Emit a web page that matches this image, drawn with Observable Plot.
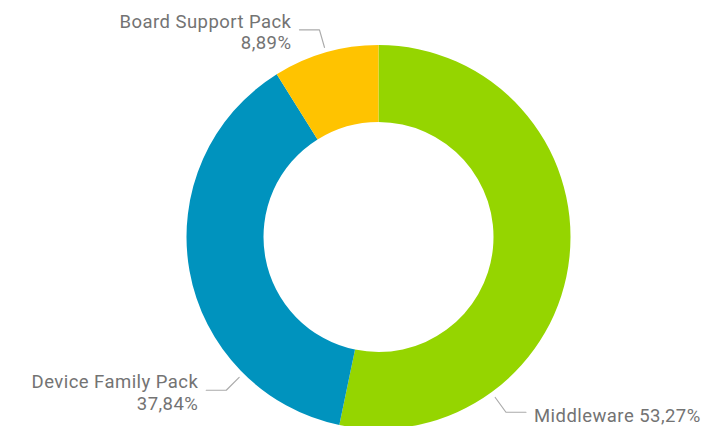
<!DOCTYPE html>
<html>
<head>
<meta charset="utf-8">
<script src="https://cdn.jsdelivr.net/npm/d3@7"></script>
<script src="https://cdn.jsdelivr.net/npm/@observablehq/plot@0.6"></script>
<style>
  html, body { margin: 0; padding: 0; background: #fff; }
  #chart { width: 725px; height: 426px; overflow: hidden; }
  #chart text { letter-spacing: 0.45px; }
</style>
</head>
<body>
<div id="chart"></div>
<script>
// Data
const categories = ["Middleware", "Device Family Pack", "Board Support Pack"];
const shares = [53.27, 37.84, 8.89];
const percentLabels = ["53,27%", "37,84%", "8,89%"];
const colors = ["#95D500", "#0093BE", "#FFC300"];

const slices = categories.map((c, i) => ({category: c, value: shares[i], label: percentLabels[i]}));
const pie = d3.pie().sort(null).value(d => d.value)(slices);

// Label leader-line layout (angles in degrees clockwise from top)
const labelLayout = {
  "Middleware":          {angle: 144, side: 1,  text: d => `${d.category} ${d.label}`, dy: 3},
  "Device Family Pack":  {angle: 225, side: -1, text: d => `${d.category}\n${d.label}`, dy: 2},
  "Board Support Pack":  {angle: 344, side: -1, text: d => `${d.category}\n${d.label}`, dy: 2}
};
const R = 192; // outer radius in px
const innerFrac = 115 / 192;
const r0 = 1.03, r1 = 1.125, hor = 20 / R, gap = 8 / R;

const pt = (a, r) => [r * Math.sin(a * Math.PI / 180), r * Math.cos(a * Math.PI / 180)];

const leaderPts = [];
const labelRows = [];
slices.forEach(d => {
  const L = labelLayout[d.category];
  const [xs, ys] = pt(L.angle, r0);
  const [xe, ye] = pt(L.angle, r1);
  leaderPts.push({k: d.category, x: xs, y: ys});
  leaderPts.push({k: d.category, x: xe, y: ye});
  leaderPts.push({k: d.category, x: xe + L.side * hor, y: ye});
  labelRows.push({x: xe + L.side * (hor + gap), y: ye, text: L.text(d), anchor: L.side > 0 ? "start" : "end", dy: L.dy});
});

function donut(index, scales, values, dimensions, context) {
  const sx = scales.x, sy = scales.y;
  const cx = sx(0), cy = sy(0);
  const rOut = sx(1) - sx(0);
  const arc = d3.arc().innerRadius(rOut * innerFrac).outerRadius(rOut);
  const g = d3.create("svg:g").attr("transform", `translate(${cx},${cy})`);
  g.selectAll("path").data(pie).join("path")
    .attr("d", arc)
    .attr("fill", (d, i) => colors[i]);
  return g.node();
}

const chart = Plot.plot({
  width: 725,
  height: 426,
  margin: 0,
  style: {background: "#fff", fontFamily: "Roboto, sans-serif", overflow: "visible"},
  x: {domain: [-1, 1], range: [186.5, 570.5], axis: null},
  y: {domain: [-1, 1], range: [429, 45], axis: null},
  marks: [
    donut,
    Plot.line(leaderPts, {x: "x", y: "y", z: "k", stroke: "#ababab", strokeWidth: 1.2}),
    ...labelRows.map(r => Plot.text([r], {
      x: "x", y: "y", text: "text", textAnchor: r.anchor, dy: r.dy,
      fill: "#737373", fontSize: 18.5, lineHeight: 1.14, lineAnchor: "middle"
    }))
  ]
});
document.getElementById("chart").appendChild(chart);
</script>
</body>
</html>
